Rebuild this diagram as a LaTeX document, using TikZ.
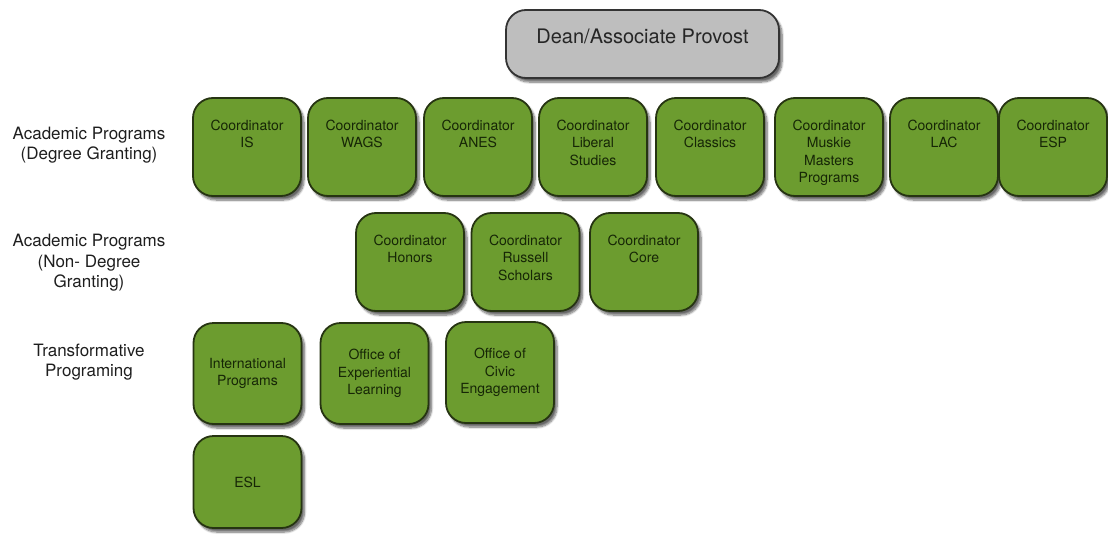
\documentclass[tikz,border=0pt]{standalone}
\usepackage{fontspec}
\setmainfont{TeX Gyre Heros}
\usetikzlibrary{shadows.blur}
\definecolor{progfill}{RGB}{108,156,47}
\definecolor{progline}{RGB}{38,52,18}
\definecolor{progtext}{RGB}{22,38,6}
\definecolor{deanfill}{RGB}{190,190,190}
\definecolor{lbltext}{RGB}{30,30,30}
% text hangs from the top of the box
\newcommand{\boxtop}[1]{\parbox[c][80pt][t]{104pt}{\centering\vspace*{13pt}#1}}

\begin{document}
\begin{tikzpicture}[x=1pt,y=-1pt,
    prog/.style={draw=progline, line width=1.8pt, fill=progfill, rounded corners=20pt,
      minimum width=108pt, minimum height=98pt, inner sep=0pt, text=progtext,
      font=\fontsize{14}{17.5}\selectfont, align=center,
      blur shadow={shadow xshift=3pt, shadow yshift=-4pt, shadow blur steps=8, shadow opacity=60}},
    dean/.style={prog, fill=deanfill, draw=black!80, text=black!85,
      minimum width=273pt, minimum height=68pt, rounded corners=20pt,
      font=\fontsize{20}{24}\selectfont},
    rowlabel/.style={align=center, text=lbltext, font=\fontsize{17}{20.5}\selectfont}]
    \useasboundingbox (0,0) rectangle (1108,535);
    % head
    \node[dean] (dean) at (642.5,44) {\parbox[c][60pt][t]{260pt}{\centering\vspace*{15pt}Dean/Associate Provost}};
    % degree granting
    \node[rowlabel] (degreelbl) at (89,145) {Academic Programs\\(Degree Granting)};
    \node[prog] (is) at (247,147) {\boxtop{Coordinator\\IS}};
    \node[prog] (wags) at (362,147) {\boxtop{Coordinator\\WAGS}};
    \node[prog] (anes) at (478,147) {\boxtop{Coordinator\\ANES}};
    \node[prog] (liberal) at (593,147) {\boxtop{Coordinator\\Liberal\\Studies}};
    \node[prog] (classics) at (710,147) {\boxtop{Coordinator\\Classics}};
    \node[prog] (muskie) at (829,147) {\boxtop{Coordinator\\Muskie\\Masters\\Programs}};
    \node[prog] (lac) at (944,147) {\boxtop{Coordinator\\LAC}};
    \node[prog] (esp) at (1053,147) {\boxtop{Coordinator\\ESP}};
    % non-degree granting
    \node[rowlabel] (nondegreelbl) at (89,263) {Academic Programs\\(Non- Degree\\Granting)};
    \node[prog] (honors) at (410,262) {\boxtop{Coordinator\\Honors}};
    \node[prog] (russell) at (525.5,262) {\boxtop{Coordinator\\Russell\\Scholars}};
    \node[prog] (core) at (644,262) {\boxtop{Coordinator\\Core}};
    % transformative
    \node[rowlabel] (translbl) at (89,362) {Transformative\\Programing};
    \node[prog, minimum height=101pt] (intl) at (247.5,373.5) {International\\Programs};
    \node[prog, minimum height=101pt] (experiential) at (374.5,373.5) {Office of\\Experiential\\Learning};
    \node[prog, minimum height=101pt] (civic) at (500,372.5) {Office of\\Civic\\Engagement};
    \node[prog, minimum height=92pt] (esl) at (247.5,482) {ESL};
\end{tikzpicture}
\end{document}
